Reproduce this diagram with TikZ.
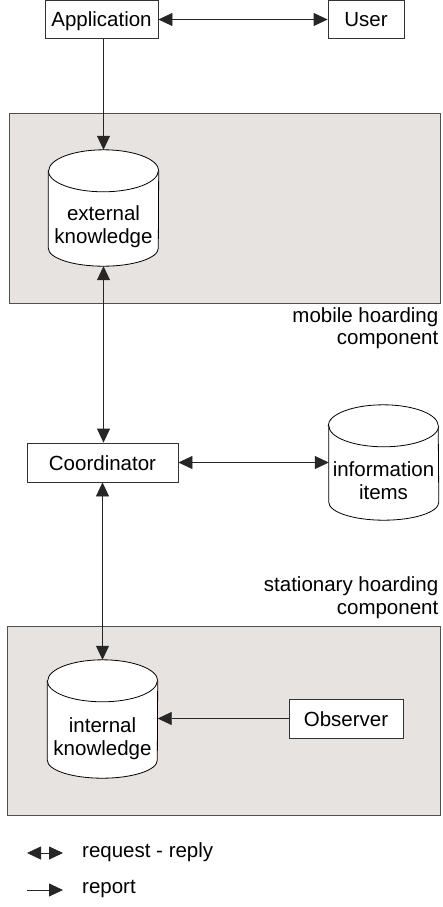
\documentclass[tikz,border=0pt]{standalone}
\usepackage{fontspec}
\setmainfont{Liberation Sans}
\usetikzlibrary{arrows.meta}
\pgfdeclarelayer{bg}
\pgfdeclarelayer{mid}
\pgfsetlayers{bg,mid,main}
\definecolor{zonefill}{RGB}{231,227,224}
\definecolor{zoneline}{RGB}{80,80,80}
\definecolor{boxline}{RGB}{50,50,50}
\newcommand\cylshape[1]{%
\begin{pgfonlayer}{mid}
\draw[dbline] ([yshift=-21pt]#1.north west) -- ([yshift=18pt]#1.south west)
  arc[start angle=180,end angle=360,x radius=55pt,y radius=18pt]
  -- ([yshift=-21pt]#1.north east)
  arc[start angle=0,end angle=180,x radius=55pt,y radius=21pt] -- cycle;
\draw[dbline] ([yshift=-21pt]#1.north west)
  arc[start angle=180,end angle=360,x radius=55pt,y radius=21pt];
\end{pgfonlayer}}
\tikzset{
  txt/.style={font=\fontsize{20.5}{22.5}\selectfont, align=center, inner sep=0pt},
  pbox/.style={txt, draw=boxline, line width=0.8pt, fill=white, text height=15pt, text depth=0pt},
  dbnode/.style={minimum width=110pt, inner sep=0pt, draw=none},
  dbline/.style={draw=black, line width=0.8pt, fill=white},
  zone/.style={draw=zoneline, fill=zonefill, line width=0.8pt},
  conn/.style={line width=0.8pt, draw=black!85},
  tip/.style={-{Triangle[length=14pt,width=13pt]}},
  tips/.style={{Triangle[length=14pt,width=13pt]}-{Triangle[length=14pt,width=13pt]}},
}
\begin{document}
\begin{tikzpicture}[x=1pt,y=-1pt]
\useasboundingbox (0,0) rectangle (442,907);

% zones
\begin{pgfonlayer}{bg}
\fill[white] (0,0) rectangle (442,907);
\draw[zone] (9,113.5) rectangle (440,303);
\draw[zone] (7.5,626) rectangle (440,815);
\end{pgfonlayer}

% boxes
\node[pbox, minimum width=113pt, minimum height=37.5pt] (app) at (101.5,19.5) {Application};
\node[pbox, minimum width=76pt, minimum height=37.5pt] (user) at (366,19.5) {User};
\node[pbox, minimum width=151pt, minimum height=39pt] (coord) at (102.5,462.5) {Coordinator};
\node[pbox, minimum width=114pt, minimum height=39pt] (obs) at (346,718.5) {Observer};

% cylinders
\node[dbnode, minimum height=116pt] (ext) at (103.5,208) {};
\cylshape{ext}
\node[txt] (extT) at (103.5,226.5) {external\\knowledge};

\node[dbnode, minimum width=109pt, minimum height=115pt] (info) at (383.5,462.5) {};
\cylshape{info}
\node[txt] (infoT) at (383.5,480.5) {information\\items};

\node[dbnode, minimum height=118pt] (int) at (102.5,719) {};
\cylshape{int}
\node[txt] (intT) at (102.5,738.5) {internal\\knowledge};

% zone labels
\node[txt, anchor=east, align=right] (mobL) at (438.5,328) {mobile hoarding\\component};
\node[txt, anchor=east, align=right] (staL) at (438.5,597.5) {stationary hoarding\\component};

% connectors
\draw[conn, tips] (app.east) -- (user.west);
\draw[conn, tip] (app.south -| ext.north) -- (ext.north);
\draw[conn, tips] (coord.north -| ext.south) -- (ext.south);
\draw[conn, tips] (coord.east) -- (info.west);
\draw[conn, tips] (coord.south -| int.north) -- (int.north);
\draw[conn, tip] (obs.west) -- (obs.west -| int.east);

% legend
\coordinate (l1a) at (27,853);
\coordinate (l1b) at (63,853);
\coordinate (l2a) at (27,890);
\coordinate (l2b) at (63,890);
\draw[conn, tips] (l1a) -- (l1b);
\draw[conn, tip] (l2a) -- (l2b);
\node[txt, anchor=west] (legRR) at (82,852) {request - reply};
\node[txt, anchor=west] (legR) at (82,889) {report};
\end{tikzpicture}
\end{document}
